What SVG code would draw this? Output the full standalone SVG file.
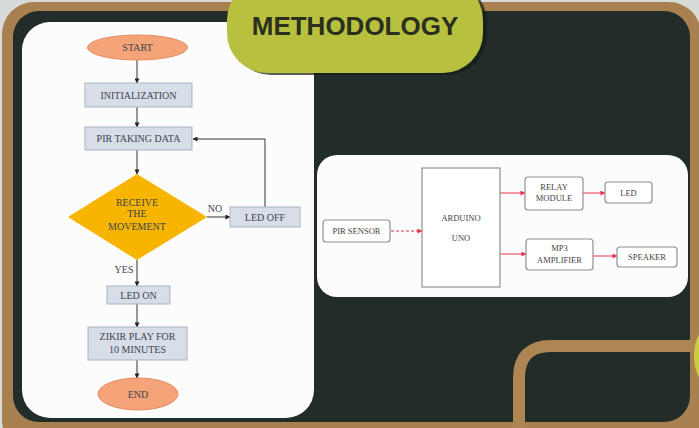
<svg xmlns="http://www.w3.org/2000/svg" width="699" height="428" viewBox="0 0 699 428">
<defs>
<style>
.fc{font-family:"Liberation Serif","Times New Roman",serif;font-size:10px;fill:#3e4450;text-anchor:middle}
.bd{font-family:"Liberation Serif","Times New Roman",serif;font-size:8.5px;fill:#444;text-anchor:middle}
.box{fill:#d7dee8;stroke:#aab5c4;stroke-width:1}
.oval{fill:#f5a378;stroke:#e38b5f;stroke-width:1}
.bbox{fill:#fff;stroke:#8f8f8f;stroke-width:1.2}
.ln{stroke:#333;stroke-width:1;fill:none}
.rl{stroke:#e8354c;stroke-width:1;fill:none}
</style>
<marker id="ah" viewBox="0 0 6 6" refX="5.5" refY="3" markerWidth="5" markerHeight="5" orient="auto"><path d="M0,0 L6,3 L0,6 Z" fill="#222"/></marker>
<marker id="ar" viewBox="0 0 6 6" refX="5.5" refY="3" markerWidth="5" markerHeight="5" orient="auto"><path d="M0,0 L6,3 L0,6 Z" fill="#e8354c"/></marker>
</defs>

<!-- background frame -->
<rect x="0" y="0" width="699" height="428" fill="#d8dcd9"/>
<rect x="2" y="2" width="699" height="450" rx="32" fill="#a98150"/>
<rect x="13" y="11" width="677" height="411" rx="26" fill="#222c28"/>
<path d="M519 440 V378 Q519 346 551 346 H712" fill="none" stroke="#ae8654" stroke-width="12"/>
<ellipse cx="706" cy="356" rx="12" ry="26" fill="#c6cd3e"/>

<!-- left white panel -->
<rect x="22" y="22" width="292" height="396" rx="28" fill="#fcfcfc"/>

<!-- title pill -->
<g id="title">
<rect x="231" y="-18" width="256" height="93" rx="40" fill="#141c17" opacity="0.7"/>
<rect x="227" y="-20" width="256" height="93" rx="40" fill="#b8c03f"/>
<text x="355" y="35" font-family="'Liberation Sans',Arial,sans-serif" font-size="26" font-weight="bold" fill="#2a2f1e" text-anchor="middle">METHODOLOGY</text>
</g>

<!-- right white panel -->
<rect x="317" y="155" width="371" height="142" rx="20" fill="#fcfcfc"/>

<!-- flowchart connectors -->
<g id="flow-connectors">
<line class="ln" x1="137" y1="60" x2="137" y2="83" marker-end="url(#ah)"/>
<line class="ln" x1="137" y1="107" x2="137" y2="127" marker-end="url(#ah)"/>
<line class="ln" x1="137" y1="150" x2="137" y2="174" marker-end="url(#ah)"/>
<line class="ln" x1="207" y1="217" x2="230" y2="217" marker-end="url(#ah)"/>
<polyline class="ln" points="265,207 265,139 193,139" marker-end="url(#ah)"/>
<line class="ln" x1="137" y1="260" x2="137" y2="286" marker-end="url(#ah)"/>
<line class="ln" x1="137" y1="304" x2="137" y2="327" marker-end="url(#ah)"/>
<line class="ln" x1="137" y1="360" x2="137" y2="378" marker-end="url(#ah)"/>
<text class="fc" x="215" y="212">NO</text>
<text class="fc" x="124" y="273">YES</text>
</g>

<!-- flowchart nodes -->
<g id="start"><ellipse class="oval" cx="137.5" cy="47.5" rx="50" ry="12.5"/><text class="fc" x="137.5" y="51">START</text></g>
<g id="init"><rect class="box" x="85" y="83" width="107" height="24"/><text class="fc" x="138.5" y="98.5">INITIALIZATION</text></g>
<g id="pir-data"><rect class="box" x="85" y="127" width="107" height="23"/><text class="fc" x="138.5" y="142">PIR TAKING DATA</text></g>
<g id="decision"><polygon points="137,174 207,217 137,260 68,217" fill="#f7b500"/>
<text class="fc" x="137" y="206" font-size="9.5" fill="#6a5220">RECEIVE</text>
<text class="fc" x="137" y="217" font-size="9.5" fill="#6a5220">THE</text>
<text class="fc" x="137" y="230" font-size="9.5" fill="#6a5220">MOVEMENT</text></g>
<g id="led-off"><rect class="box" x="230" y="207" width="70" height="20"/><text class="fc" x="265" y="220.5">LED OFF</text></g>
<g id="led-on"><rect class="box" x="107" y="286" width="63" height="18"/><text class="fc" x="138.5" y="298.5">LED ON</text></g>
<g id="zikir"><rect class="box" x="88" y="327" width="99" height="33"/><text class="fc" x="137.5" y="340">ZIKIR PLAY FOR</text><text class="fc" x="137.5" y="353">10 MINUTES</text></g>
<g id="end"><ellipse class="oval" cx="138" cy="394" rx="40" ry="16"/><text class="fc" x="138" y="397.5">END</text></g>

<!-- block diagram connectors -->
<g id="block-connectors">
<line class="rl" x1="391" y1="231" x2="422" y2="231" stroke-dasharray="3,2" marker-end="url(#ar)"/>
<line class="rl" x1="500" y1="193" x2="525" y2="193" marker-end="url(#ar)"/>
<line class="rl" x1="583" y1="193" x2="605" y2="193" marker-end="url(#ar)"/>
<line class="rl" x1="500" y1="254" x2="526" y2="254" marker-end="url(#ar)"/>
<line class="rl" x1="593" y1="256" x2="617" y2="256" marker-end="url(#ar)"/>
</g>

<!-- block diagram nodes -->
<g id="pir-sensor"><rect class="bbox" x="323" y="220" width="67" height="22" rx="3"/><text class="bd" x="356.5" y="234">PIR SENSOR</text></g>
<g id="arduino"><rect class="bbox" x="422" y="168" width="78" height="119"/><text class="bd" x="461" y="221">ARDUINO</text><text class="bd" x="461" y="241">UNO</text></g>
<g id="relay"><rect class="bbox" x="525" y="177" width="58" height="33" rx="3"/><text class="bd" x="554" y="190">RELAY</text><text class="bd" x="554" y="201">MODULE</text></g>
<g id="led"><rect class="bbox" x="605" y="182" width="47" height="21" rx="3"/><text class="bd" x="628.5" y="195.5">LED</text></g>
<g id="mp3"><rect class="bbox" x="526" y="239" width="67" height="31" rx="3"/><text class="bd" x="559.5" y="251">MP3</text><text class="bd" x="559.5" y="263">AMPLIFIER</text></g>
<g id="speaker"><rect class="bbox" x="617" y="247" width="60" height="20" rx="3"/><text class="bd" x="647" y="260">SPEAKER</text></g>
</svg>
